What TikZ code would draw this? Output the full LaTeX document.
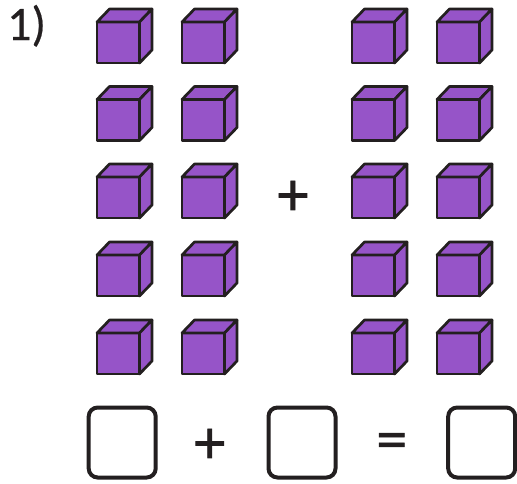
\documentclass[tikz,border=0pt]{standalone}
\usepackage{fontspec}
\setmainfont{Carlito}
\newfontfamily\heavyfont{Carlito}[FakeBold=1]
\newfontfamily\labelfont{Carlito}[FakeBold=0.5]
\usepackage{xcolor}
\usetikzlibrary{positioning}

\definecolor{cubefill}{RGB}{150,84,200}
\definecolor{ink}{RGB}{35,31,32}

\tikzset{
    cubeface/.style={draw=ink, fill=cubefill, line width=2.7pt, line join=round},
    answerbox/.style={draw=ink, line width=4pt, rounded corners=9pt, minimum width=67pt, minimum height=70pt, inner sep=0pt},
    sign/.style={text=ink, inner sep=0pt, font=\heavyfont\fontsize{62}{66}\selectfont}
}

\begin{document}
\begin{tikzpicture}[x=1pt, y=-1pt]
    \useasboundingbox (0, 0) rectangle (517, 483);

    \node[anchor=base west, text=ink, inner sep=0pt, font=\labelfont\fontsize{48}{54}\selectfont] (num) at (7, 40) {1)};

    % two groups of ten cubes
    \foreach \x in {97, 182, 352, 437} {
        \foreach \y in {22, 99.5, 177, 255, 333} {
            \draw[cubeface]
            (\x, \y) rectangle (\x + 42.5, \y + 41);
            \draw[cubeface]
            (\x, \y) -- (\x + 12.5, \y - 13) -- (\x + 55, \y - 13) -- (\x + 42.5, \y) -- cycle;
            \draw[cubeface]
            (\x + 42.5, \y) -- (\x + 55, \y - 13) -- (\x + 55, \y + 28) -- (\x + 42.5, \y + 41) -- cycle;
        }
    }

    \node[sign] (plus1) at (293, 198) {+};

    % sum to fill in
    \node[answerbox] (ans1) at (122.2, 442.5) {};
    \node[answerbox] (ans2) at (302, 442.5) {};
    \node[answerbox] (ans3) at (481.7, 442.5) {};

    \node[sign] (plus2) at (209.8, 446) {+};
    \node[sign] (equal) at (391.7, 446.4) {=};
\end{tikzpicture}
\end{document}
